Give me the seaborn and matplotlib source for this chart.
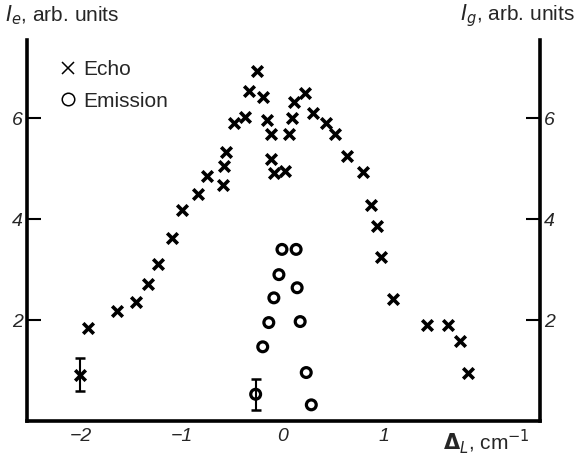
import numpy as np
import pandas as pd
import seaborn as sns
import matplotlib.pyplot as plt
from matplotlib.lines import Line2D

# echo signal, I_e (crosses)
echo_x = [-2.01, -1.93, -1.64, -1.45, -1.33, -1.24, -1.10, -1.00, -0.84, -0.75,
          -0.59, -0.58, -0.56, -0.48, -0.38, -0.34, -0.26, -0.20, -0.16, -0.12,
          -0.12, -0.09, 0.02, 0.06, 0.09, 0.11, 0.22, 0.30, 0.43, 0.51,
          0.63, 0.79, 0.87, 0.93, 0.97, 1.09, 1.42, 1.63, 1.75, 1.83]
echo_y = [0.92, 1.85, 2.18, 2.35, 2.72, 3.11, 3.63, 4.18, 4.49, 4.85,
          4.67, 5.05, 5.33, 5.91, 6.03, 6.53, 6.94, 6.42, 5.96, 5.68,
          5.20, 4.92, 4.96, 5.68, 6.01, 6.32, 6.50, 6.11, 5.91, 5.68,
          5.25, 4.94, 4.28, 3.86, 3.24, 2.42, 1.91, 1.91, 1.59, 0.96]

# emission signal, I_g (circles)
emis_x = [-0.27, -0.20, -0.14, -0.09, -0.04, -0.01, 0.13, 0.14, 0.17, 0.23, 0.28]
emis_y = [0.53, 1.47, 1.95, 2.44, 2.90, 3.40, 3.40, 2.64, 1.97, 0.96, 0.32]

# error bars shown on one point of each series
err_x = [-2.01, -0.27]
err_y = [0.92, 0.53]
err_size = [0.33, 0.31]

xtick_vals = [-2, -1, 0, 1, 2]
xtick_labels = ['\u22122', '\u22121', '0', '1', '']
ytick_vals = [2, 4, 6]

sns.set_style('white')
plt.rcParams['font.family'] = ['Liberation Sans', 'DejaVu Sans']
plt.rcParams['mathtext.fontset'] = 'dejavusans'

echo = pd.DataFrame({'x': echo_x, 'y': echo_y})
emis = pd.DataFrame({'x': emis_x, 'y': emis_y})

fig = plt.figure(figsize=(5.79, 4.58), dpi=100)
ax = fig.add_axes([0.0466, 0.0808, 0.886, 0.832])

sns.scatterplot(data=echo, x='x', y='y', marker='x', s=58, color='black',
                linewidth=2.6, ax=ax, zorder=3)
sns.scatterplot(data=emis, x='x', y='y', marker='o', s=50, facecolor='none',
                edgecolor='black', linewidth=2.3, ax=ax, zorder=3)
ax.errorbar(err_x, err_y, yerr=err_size, fmt='none', ecolor='black',
            elinewidth=1.5, capsize=3.5, capthick=1.8, zorder=2)

ax.set_xlim(-2.53, 2.54)
ax.set_ylim(0, 7.55)

# axes frame: thick left/right/bottom, no top
for side in ['left', 'right', 'bottom']:
    ax.spines[side].set_visible(True)
    ax.spines[side].set_linewidth(2.6)
    ax.spines[side].set_color('black')
ax.spines['top'].set_visible(False)

ax.set_xticks(xtick_vals)
ax.set_xticklabels(xtick_labels, fontstyle='italic', fontsize=14)
ax.set_yticks(ytick_vals)
ax.set_yticklabels([str(v) for v in ytick_vals], fontstyle='italic', fontsize=14)
ax.tick_params(axis='both', direction='in', length=10, width=1.5, color='black')
ax.tick_params(axis='x', pad=5)
ax.tick_params(axis='y', left=True, right=True, labelleft=True, labelright=True, pad=3)

ax.set_xlabel(r'$\mathbf{\Delta}_{\mathit{L}}$, cm$^{-1}$', fontsize=15)
ax.xaxis.set_label_coords(0.895, -0.015)
ax.set_ylabel('')

fig.text(0.009, 0.967, r'$I_e$, arb. units', fontsize=15, ha='left', va='center')
fig.text(0.993, 0.967, r'$I_g$, arb. units', fontsize=15, ha='right', va='center')

handles = [Line2D([], [], linestyle='none', marker='x', color='black',
                  markersize=9, markeredgewidth=1.1, label='Echo'),
           Line2D([], [], linestyle='none', marker='o', markerfacecolor='none',
                  markeredgecolor='black', markersize=9, markeredgewidth=1.1,
                  label='Emission')]
ax.legend(handles=handles, loc='upper left', bbox_to_anchor=(0.035, 0.985),
          frameon=False, fontsize=15, handlelength=0.8, handletextpad=0.35,
          labelspacing=0.6, borderpad=0.2)

fig.savefig('out.png', dpi=100)
